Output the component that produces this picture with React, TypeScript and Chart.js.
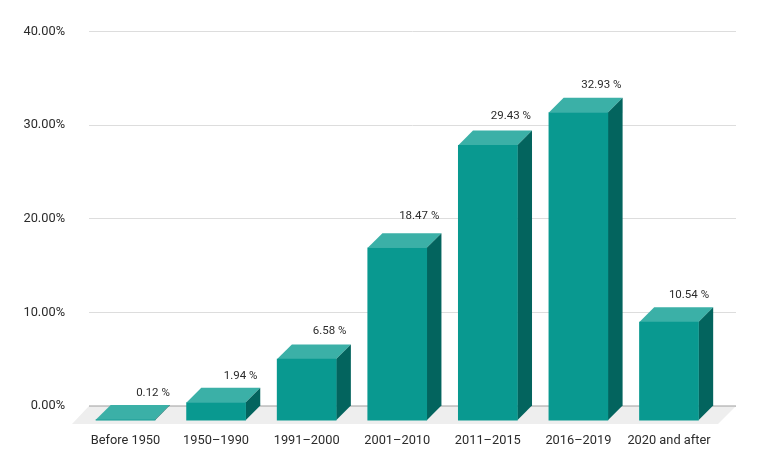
import React, { useEffect, useRef } from "react";
import { Chart, registerables } from "chart.js";

Chart.register(...registerables);

const categories = ["Before 1950", "1950–1990", "1991–2000", "2001–2010", "2011–2015", "2016–2019", "2020 and after"];
const shares = [0.12, 1.94, 6.58, 18.47, 29.43, 32.93, 10.54];
const yTicks = [0, 10, 20, 30, 40];

const DEPTH = 14.7;
const FONT = "Roboto";
const TEXT = "#2b2b2b";
const ZERO_LINE = "#9e9e9e";

const poly = (ctx: CanvasRenderingContext2D, pts: number[][], fill: string) => {
  ctx.beginPath();
  pts.forEach(([x, y], i) => (i ? ctx.lineTo(x, y) : ctx.moveTo(x, y)));
  ctx.closePath();
  ctx.fillStyle = fill;
  ctx.fill();
};

const labelShift = (i: number) => {
  const dx = [4.5, 1.5, 0, -1, 0, 0, -3][i];
  const dy = [1.5, 1.5, 0, -4, -1, 0, 0.5][i];
  return { dx, dy };
};

const box3d = {
  id: "box3d",
  beforeDatasetsDraw(chart: any) {
    const { ctx, chartArea: a } = chart;
    poly(ctx, [[a.left, a.bottom], [a.right, a.bottom], [a.right - 18, a.bottom + 18], [a.left - 17, a.bottom + 18]], "#eeeeee");
    ctx.save();
    ctx.strokeStyle = ZERO_LINE;
    ctx.lineWidth = 1;
    ctx.beginPath();
    ctx.moveTo(a.left, a.bottom);
    ctx.lineTo(a.right, a.bottom);
    ctx.stroke();
    ctx.restore();
  },
  beforeDatasetDraw(chart: any) {
    const { ctx } = chart;
    chart.getDatasetMeta(0).data.forEach((el: any) => {
      const l = el.x - el.width / 2;
      const r = el.x + el.width / 2;
      const top = el.y + DEPTH;
      const bottom = el.base + DEPTH;
      poly(ctx, [[l, top], [l + DEPTH, el.y], [r + DEPTH, el.y], [r, top]], "#3bb0a7");
      poly(ctx, [[r, top], [r + DEPTH, el.y], [r + DEPTH, el.base], [r, bottom]], "#03645e");
    });
    ctx.save();
    ctx.translate(0, DEPTH);
  },
  afterDatasetDraw(chart: any) {
    const { ctx } = chart;
    ctx.restore();
    ctx.font = `11.5px ${FONT}`;
    ctx.fillStyle = TEXT;
    ctx.textAlign = "center";
    ctx.textBaseline = "middle";
    chart.getDatasetMeta(0).data.forEach((el: any, i: number) => {
      const { dx, dy } = labelShift(i);
      ctx.fillText(`${shares[i].toFixed(2)} %`, el.x + 23 + dx, el.y - 13 + dy);
    });
  },
};

export default function App() {
  const ref = useRef<HTMLCanvasElement>(null);
  useEffect(() => {
    const chart = new Chart(ref.current!, {
      type: "bar",
      plugins: [box3d],
      data: {
        datasets: [
          {
            data: shares.map((y, x) => ({ x, y })),
            backgroundColor: "#099990",
            barThickness: 59,
            clip: false,
          } as any,
        ],
      },
      options: {
        responsive: false,
        animation: false,
        layout: { padding: { top: 31, right: 24, left: 0, bottom: 0 } },
        plugins: { legend: { display: false }, tooltip: { enabled: false } },
        scales: {
          x: {
            type: "linear",
            offset: false,
            min: -0.403,
            max: 6.74,
            grid: { display: false },
            border: { display: false },
            afterFit: (s: any) => { s.height = 64; },
            afterBuildTicks: (s: any) => { s.ticks = categories.map((_, value) => ({ value })); },
            ticks: {
              includeBounds: false,
              stepSize: 1,
              autoSkip: false,
              maxRotation: 0,
              padding: 19,
              color: TEXT,
              font: { family: FONT, size: 12.8 },
              callback: (v: any) => categories[v],
            },
          },
          y: {
            min: yTicks[0],
            max: yTicks[yTicks.length - 1],
            afterFit: (s: any) => { s.width = 89; },
            grid: {
              drawTicks: false,
              color: "#dddddd",
            },
            border: { display: false },
            ticks: {
              stepSize: 10,
              padding: 24,
              color: TEXT,
              font: { family: FONT, size: 12.8 },
              callback: (v: any) => `${Number(v).toFixed(2)}%`,
            },
          },
        },
      } as any,
    });
    return () => chart.destroy();
  }, []);
  return <canvas ref={ref} width={760} height={470} style={{ position: "fixed", left: 0, top: 0, background: "#fff" }} />;
}
